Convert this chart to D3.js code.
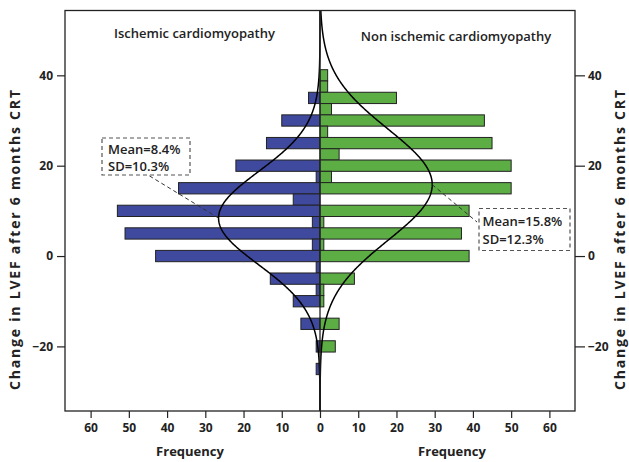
<!DOCTYPE html>
<html>
<head>
<meta charset="utf-8">
<script src="https://cdn.jsdelivr.net/npm/d3@7"></script>
<style>
  body { margin: 0; background: #fff; }
  svg text { font-family: "Open Sans", sans-serif; fill: #222; }
</style>
</head>
<body>
<div id="chart"></div>
<script>
// bin centres (change in LVEF, %), each bin 2.5 wide
const bins = [40, 37.5, 35, 32.5, 30, 27.5, 25, 22.5, 20, 17.5, 15, 12.5, 10, 7.5, 5, 2.5,
              0, -2.5, -5, -7.5, -10, -12.5, -15, -17.5, -20, -22.5, -25];
// frequencies
const ischemic    = [0, 0, 3, 0, 10, 0, 14, 0, 22, 1, 37, 7, 53, 2, 51, 2,
                     43, 1, 13, 1, 7, 0, 5, 0, 1, 0, 1];
const nonIschemic = [2, 2, 20, 3, 43, 2, 45, 5, 50, 3, 50, 0, 39, 1, 37, 1,
                     39, 0, 9, 1, 1, 0, 5, 0, 4, 0, 0];
const groupNames = ['Ischemic cardiomyopathy', 'Non ischemic cardiomyopathy'];
const groupMean = [8.4, 15.8];
const groupSD = [10.3, 12.3];
const yTicks = [40, 20, 0, -20];
const xTicks = [-60, -50, -40, -30, -20, -10, 0, 10, 20, 30, 40, 50, 60];
const binWidth = 2.5;

const W = 629, H = 462;
const blue = '#3f4a9f', green = '#5dad45', ink = '#222';

const svg = d3.select('#chart').append('svg')
    .attr('width', W)
    .attr('height', H);

const x = d3.scaleLinear().domain([-66.7, 66.7]).range([65, 575]);
const y = d3.scaleLinear().domain([-34.3, 54.35]).range([411, 10.5]);

// bars: ischemic to the left, non ischemic to the right
const rows = bins.map((b, i) => ({ b: b, left: ischemic[i], right: nonIschemic[i] }));

svg.append('g').selectAll('rect')
    .data(rows.filter(d => d.left > 0))
    .enter().append('rect')
    .attr('x', d => x(-d.left))
    .attr('y', d => y(d.b + binWidth / 2))
    .attr('width', d => x(0) - x(-d.left))
    .attr('height', d => y(d.b - binWidth / 2) - y(d.b + binWidth / 2))
    .attr('fill', blue)
    .attr('stroke', ink)
    .attr('stroke-width', 1);

svg.append('g').selectAll('rect')
    .data(rows.filter(d => d.right > 0))
    .enter().append('rect')
    .attr('x', x(0))
    .attr('y', d => y(d.b + binWidth / 2))
    .attr('width', d => x(d.right) - x(0))
    .attr('height', d => y(d.b - binWidth / 2) - y(d.b + binWidth / 2))
    .attr('fill', green)
    .attr('stroke', ink)
    .attr('stroke-width', 1);

// fitted normal curves, scaled to counts per bin
const counts = [d3.sum(ischemic), d3.sum(nonIschemic)];
const side = [-1, 1];
const yVals = d3.range(y.domain()[0], y.domain()[1] + 0.01, 0.2);
function dens(g, v) {
    const z = (v - groupMean[g]) / groupSD[g];
    return counts[g] * binWidth * Math.exp(-0.5 * z * z) / (groupSD[g] * Math.sqrt(2 * Math.PI));
}
[0, 1].forEach(g => {
    svg.append('path')
        .datum(yVals)
        .attr('fill', 'none')
        .attr('stroke', '#000')
        .attr('stroke-width', 1.5)
        .attr('d', d3.line().x(v => x(side[g] * dens(g, v))).y(v => y(v)));
});

// frame and centre line
svg.append('rect')
    .attr('x', x.range()[0]).attr('y', y.range()[1])
    .attr('width', x.range()[1] - x.range()[0])
    .attr('height', y.range()[0] - y.range()[1])
    .attr('fill', 'none')
    .attr('stroke', ink)
    .attr('stroke-width', 1.3);

svg.append('line')
    .attr('x1', x(0)).attr('x2', x(0))
    .attr('y1', y.range()[1]).attr('y2', y.range()[0])
    .attr('stroke', ink)
    .attr('stroke-width', 1.3);

// axes
function styleAxis(g) {
    g.select('.domain').remove();
    g.selectAll('line').attr('stroke', ink).attr('stroke-width', 1.2);
    g.selectAll('text')
        .attr('fill', ink)
        .style('font-family', '"Open Sans", sans-serif')
        .style('font-weight', 700)
        .style('font-size', '12px');
}

svg.append('g')
    .attr('transform', `translate(${x.range()[0]},0)`)
    .call(d3.axisLeft(y).tickValues(yTicks).tickSize(8).tickPadding(4))
    .call(styleAxis);

svg.append('g')
    .attr('transform', `translate(${x.range()[1]},0)`)
    .call(d3.axisRight(y).tickValues(yTicks).tickSize(10).tickPadding(3))
    .call(styleAxis);

svg.append('g')
    .attr('transform', `translate(0,${y.range()[0]})`)
    .call(d3.axisBottom(x).tickValues(xTicks).tickSize(7).tickPadding(5)
        .tickFormat(d => Math.abs(d)))
    .call(styleAxis);

// axis titles
[19.5, 625].forEach(bx => {
    svg.append('text')
        .attr('transform', `translate(${bx},240) rotate(-90)`)
        .attr('text-anchor', 'middle')
        .attr('textLength', 300)
        .attr('lengthAdjust', 'spacing')
        .style('font-weight', 700)
        .style('font-size', '14px')
        .text('Change in LVEF after 6 months CRT');
});

[190, 452].forEach(cx => {
    svg.append('text')
        .attr('x', cx).attr('y', 456)
        .attr('text-anchor', 'middle')
        .style('font-weight', 700)
        .style('font-size', '13px')
        .text('Frequency');
});

// panel titles
svg.append('text')
    .attr('x', 194.5).attr('y', 37.5)
    .attr('text-anchor', 'middle')
    .style('font-weight', 600)
    .style('font-size', '13px')
    .text(groupNames[0]);

svg.append('text')
    .attr('x', 456).attr('y', 41)
    .attr('text-anchor', 'middle')
    .style('font-weight', 600)
    .style('font-size', '13px')
    .text(groupNames[1]);

// mean / SD annotations with dashed leaders to the curve peaks
const boxes = [
    { x: 102, y: 138, w: 88, h: 37, tx: 108, ty: 153.5, lx: 148, ly: 175 },
    { x: 479, y: 208.5, w: 91, h: 42, tx: 482.5, ty: 226, lx: 477, ly: 222 }
];
boxes.forEach((bx, g) => {
    svg.append('line')
        .attr('x1', x(side[g] * dens(g, groupMean[g])))
        .attr('y1', y(groupMean[g]))
        .attr('x2', bx.lx).attr('y2', bx.ly)
        .attr('stroke', '#333')
        .attr('stroke-width', 1)
        .attr('stroke-dasharray', '4,3');

    svg.append('rect')
        .attr('x', bx.x).attr('y', bx.y)
        .attr('width', bx.w).attr('height', bx.h)
        .attr('fill', '#fff')
        .attr('stroke', '#555')
        .attr('stroke-width', 1.2)
        .attr('stroke-dasharray', '4,3');

    svg.append('text')
        .attr('x', bx.tx).attr('y', bx.ty)
        .style('font-weight', 600)
        .style('font-size', '13px')
        .text(`Mean=${groupMean[g]}%`);

    svg.append('text')
        .attr('x', bx.tx).attr('y', bx.ty + 17.5)
        .style('font-weight', 600)
        .style('font-size', '13px')
        .text(`SD=${groupSD[g]}%`);
});
</script>
</body>
</html>
